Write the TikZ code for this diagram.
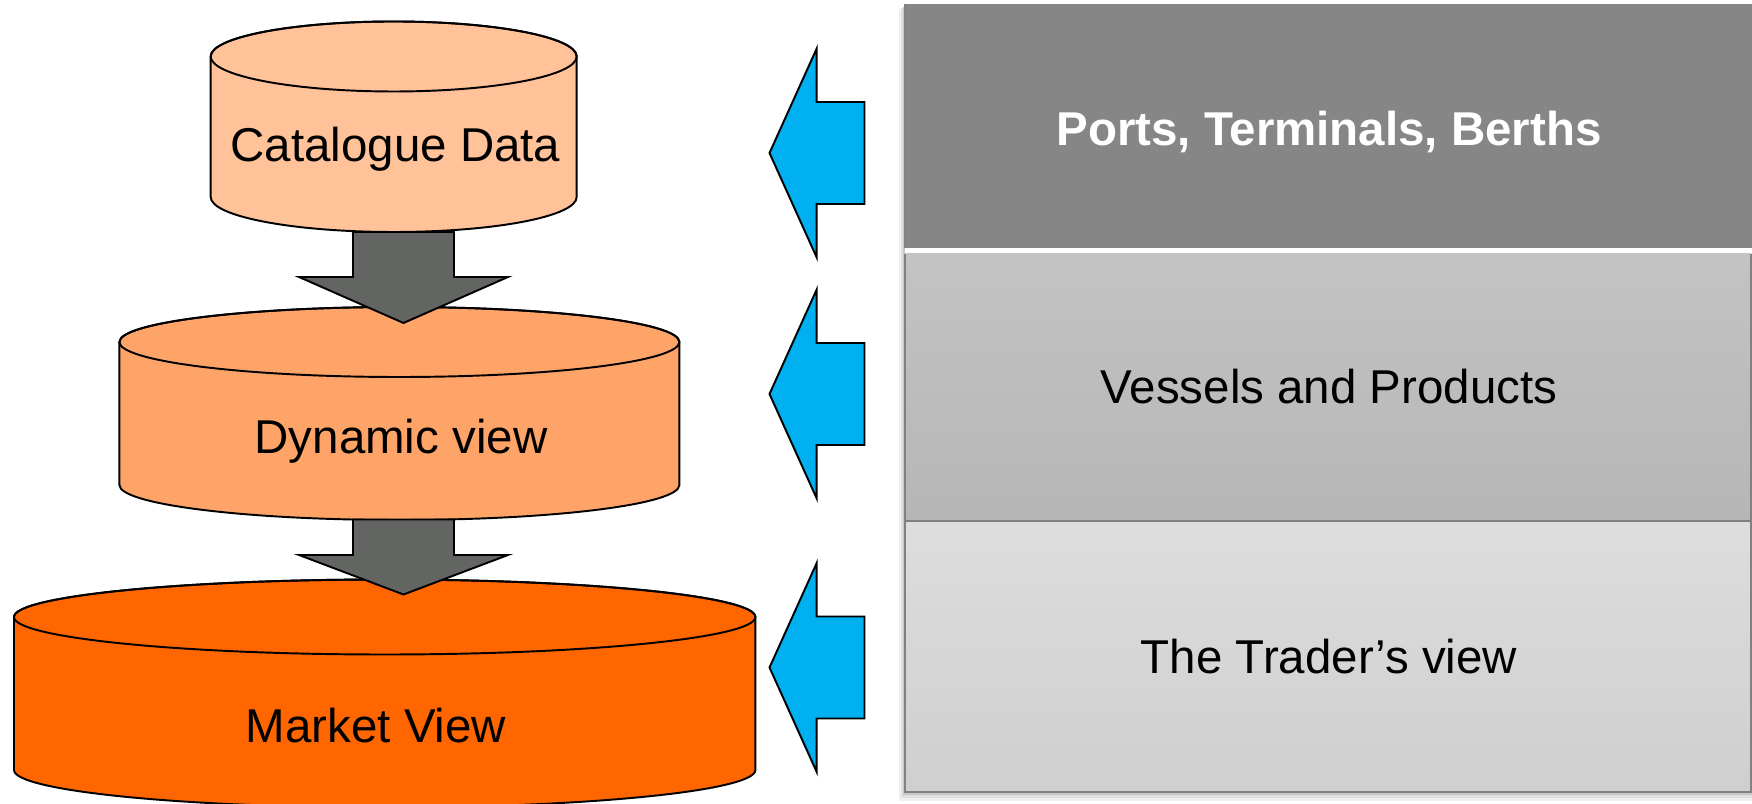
\documentclass[tikz,border=0pt]{standalone}
\usepackage{fontspec}
\setmainfont{Liberation Sans}
\definecolor{cylA}{RGB}{255,194,153}
\definecolor{cylB}{RGB}{255,164,104}
\definecolor{cylC}{RGB}{255,102,0}
\definecolor{darrow}{RGB}{99,101,99}
\definecolor{barrow}{RGB}{0,176,240}
\definecolor{bandA}{RGB}{133,134,133}
\definecolor{bandBtop}{RGB}{194,195,194}
\definecolor{bandBbot}{RGB}{181,182,181}
\definecolor{bandCtop}{RGB}{221,221,221}
\definecolor{bandCbot}{RGB}{206,207,206}
\definecolor{bandline}{RGB}{128,129,128}
\newcommand\mycyl[6]{% cx, top cy, bottom cy, rx, ry, fill
  \filldraw[cylline,fill=#6] (#1-#4,#2) -- (#1-#4,#3)
    arc[start angle=180,end angle=0,x radius=#4,y radius=#5]
    -- (#1+#4,#2)
    arc[start angle=360,end angle=180,x radius=#4,y radius=#5] -- cycle;
  \draw[cylline] (#1,#2) ellipse[x radius=#4,y radius=#5];
}
\newcommand\mydownarrow[4]{% name, shaft top y, head y, tip y
  \coordinate (#1s) at (403.5,#2);
  \coordinate (#1t) at (403.5,#4);
  \filldraw[blockdown] (353,#2) -- (454,#2) -- (454,#3) -- (508,#3) -- (#1t)
    -- (299,#3) -- (353,#3) -- cycle;
}
\newcommand\myleftarrow[2]{% name, centre y
  \coordinate (#1) at (769.5,#2);
  \filldraw[blockleft] (#1) -- (816.7,#2+104.5) -- (816.7,#2+51) -- (864.5,#2+51)
    -- (864.5,#2-51) -- (816.7,#2-51) -- (816.7,#2-104.5) -- cycle;
}
\tikzset{
  cylline/.style={draw=black,line width=0.55pt},
  blockdown/.style={draw=black,fill=darrow,line width=0.55pt,line join=miter},
  blockleft/.style={draw=black,fill=barrow,line width=0.55pt,line join=miter},
  cyltext/.style={anchor=base,inner sep=0pt,text=black,font=\fontsize{13.5}{16}\selectfont},
  bandtext/.style={anchor=base,inner sep=0pt,text=black,font=\fontsize{13.5}{16}\selectfont},
}
\begin{document}
\begin{tikzpicture}[x=0.01cm,y=-0.01cm]
\useasboundingbox (0,0) rectangle (1752,804);
\fill[white] (0,0) rectangle (1752,804);
% ---- cylinders and arrows (left)
\mycyl{393.7}{56.5}{197}{183}{35}{cylA}
\node[cyltext] (cat) at (395.5,161.5) {Catalogue Data};
\mycyl{399.4}{342}{485}{280}{35}{cylB}
\node[cyltext] (dyn) at (401,454) {Dynamic view};
\mydownarrow{da}{232}{277}{323}
\mycyl{384.7}{617}{770}{370.7}{37.5}{cylC}
\node[cyltext] (mkt) at (376,742) {Market View};
\mydownarrow{db}{519.5}{555}{594.5}
% ---- blue arrows
\myleftarrow{la}{153}
\myleftarrow{lb}{394}
\myleftarrow{lc}{667.5}
% ---- bands (right)
\fill[black!6] (899,9) rectangle (1752,801);
\fill[black!12] (901,8) rectangle (1752,798);
\fill[black!22] (903,7) rectangle (1752,795);
\fill[bandA] (905,4.3) rectangle (1752,248.5);
\fill[white] (905,248.5) rectangle (1752,254);
\shade[top color=bandBtop,bottom color=bandBbot] (905,254) rectangle (1751,521);
\shade[top color=bandCtop,bottom color=bandCbot] (905,521) rectangle (1751,792);
\draw[bandline,line width=0.5pt] (905,254) -- (905,792) -- (1751,792) -- (1751,254);
\draw[bandline,line width=0.5pt] (905,521) -- (1751,521);
\draw[bandline,line width=0.5pt] (905,248.5) -- (905,4.3);
\node[bandtext,text=white,font=\fontsize{13.5}{16}\selectfont\bfseries] (ports) at (1329,146) {Ports, Terminals, Berths};
\node[bandtext] (vess) at (1329,403.6) {Vessels and Products};
\node[bandtext] (trad) at (1329,674) {The Trader’s view};
\end{tikzpicture}
\end{document}
